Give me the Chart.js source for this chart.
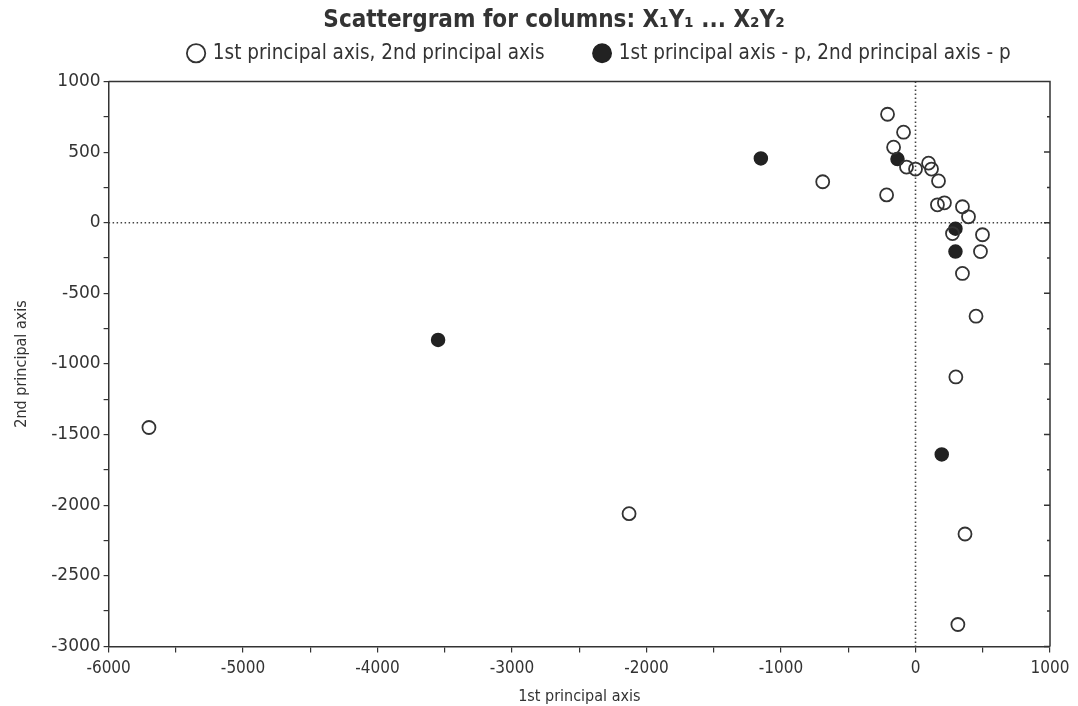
<!DOCTYPE html>
<html>
<head>
<meta charset="utf-8">
<script src="https://cdn.jsdelivr.net/npm/chart.js@4.4.0/dist/chart.umd.min.js"></script>
<style>
  html, body { margin: 0; padding: 0; background: #fff; }
  #wrap { width: 1078px; height: 706px; }
</style>
</head>
<body>
<div id="wrap"><canvas id="chart-scatter" width="1078" height="706"></canvas></div>
<script>
// values
const open_x = [-5700, -2130, -690, -208, -89, -163, -67, 0, 97, 119, 171, -215, 163, 215, 349, 394, 275, 498, 483, 349, 450, 300, 368, 315];
const open_y = [-1450, -2060, 290, 768, 641, 535, 394, 380, 422, 380, 296, 197, 127, 141, 113, 42, -77, -85, -204, -359, -662, -1092, -2204, -2845];

const filled_x = [-1150, -3550, -134, 297, 297, 195];
const filled_y = [455, -830, 451, -42, -204, -1641];

const x_ticks = [-6000, -5000, -4000, -3000, -2000, -1000, 0, 1000];
const y_ticks = [1000, 500, 0, -500, -1000, -1500, -2000, -2500, -3000];

const ink = "#333";
const condensed = "'DejaVu Sans Condensed', 'DejaVu Sans'";

function toPoints(xs, ys) {
  return xs.map((v, i) => ({ x: v, y: ys[i] }));
}

// dotted zero lines + top/right frame with small ticks
const framePlugin = {
  id: "frame",
  beforeInit(chart) {
    // a bit more room under the legend
    const fit = chart.legend.fit;
    chart.legend.fit = function () { fit.call(this); this.height += 8; };
  },
  beforeDatasetsDraw(chart) {
    const { ctx, chartArea: a, scales } = chart;
    const xs = scales.x, ys = scales.y;
    ctx.save();
    ctx.strokeStyle = "#444";
    ctx.lineWidth = 1.6;
    ctx.setLineDash([1.5, 2.5]);
    const x0 = xs.getPixelForValue(0), y0 = ys.getPixelForValue(0);
    ctx.beginPath();
    ctx.moveTo(x0, a.top); ctx.lineTo(x0, a.bottom);
    ctx.moveTo(a.left, y0); ctx.lineTo(a.right, y0);
    ctx.stroke();
    ctx.setLineDash([]);
    ctx.strokeStyle = ink;
    ctx.lineWidth = 1.5;
    ctx.beginPath();
    ctx.moveTo(a.left, a.top); ctx.lineTo(a.right, a.top); ctx.lineTo(a.right, a.bottom);
    ys.ticks.forEach(t => {
      const py = ys.getPixelForValue(t.value);
      const len = t.value % 500 === 0 ? 6 : 3;
      ctx.moveTo(a.right, py); ctx.lineTo(a.right - len, py);
    });
    ctx.stroke();
    ctx.restore();
  }
};

const data_scatter = {
  datasets: [{
    label: "1st principal axis, 2nd principal axis",
    data: toPoints(open_x, open_y),
    pointRadius: 6.5,
    pointBorderWidth: 1.8,
    borderColor: ink,
    backgroundColor: "rgba(255,255,255,0)",
    pointBackgroundColor: "rgba(255,255,255,0)"
  },
  {
    label: "1st principal axis - p, 2nd principal axis - p",
    data: toPoints(filled_x, filled_y),
    pointRadius: 6.5,
    pointBorderWidth: 1.5,
    borderColor: "#222",
    backgroundColor: "#222",
    pointBackgroundColor: "#222"
  }]
};

const config_scatter = {
  type: "scatter",
  data: data_scatter,
  plugins: [framePlugin],
  options: {
    responsive: false,
    animation: false,
    layout: { padding: { left: 4, right: 28, top: 0, bottom: 0 } },
    plugins: {
      title: {
        display: true,
        // leading space nudges the title right, as in the picture
        text: "\u2003\u2003\u2002Scattergram for columns: X\u2081Y\u2081 ... X\u2082Y\u2082",
        color: ink,
        font: { family: condensed, size: 24, weight: "bold", lineHeight: 1 },
        padding: { top: 9, bottom: 0 }
      },
      legend: {
        position: "top",
        align: "end",
        labels: {
          usePointStyle: true,
          pointStyle: "circle",
          color: ink,
          boxWidth: 13,
          boxHeight: 13,
          padding: 10,
          font: { family: condensed, size: 20.5 },
          // spacing between the two entries, as in the picture
          generateLabels(chart) {
            const items = Chart.defaults.plugins.legend.labels.generateLabels(chart);
            items[0].text += "       ";
            items[1].text += "     ";
            return items;
          }
        }
      },
      tooltip: { enabled: false }
    },
    scales: {
      x: {
        type: "linear",
        min: -6000,
        max: 1000,
        border: { display: true, color: ink, width: 1.5 },
        grid: { drawOnChartArea: false, drawTicks: true, tickLength: 6, color: ink, lineWidth: 1.2 },
        ticks: {
          stepSize: 500,
          color: ink,
          maxRotation: 0,
          autoSkip: false,
          padding: 6,
          font: { family: condensed, size: 17 },
          callback: v => x_ticks.includes(v) ? v : ""
        },
        title: {
          display: true,
          text: "1st principal axis",
          color: ink,
          padding: { top: 2, bottom: 0 },
          font: { family: condensed, size: 16 }
        }
      },
      y: {
        type: "linear",
        min: -3000,
        max: 1000,
        border: { display: true, color: ink, width: 1.5 },
        grid: { drawOnChartArea: false, drawTicks: true, tickLength: 5, color: ink, lineWidth: 1.2 },
        ticks: {
          stepSize: 250,
          color: ink,
          autoSkip: false,
          padding: 3,
          font: { family: "'DejaVu Sans'", size: 17 },
          callback: v => y_ticks.includes(v) ? v : ""
        },
        title: {
          display: true,
          text: "2nd principal axis",
          color: ink,
          padding: { top: 8, bottom: 17 },
          font: { family: condensed, size: 16 }
        }
      }
    }
  }
};

new Chart(document.getElementById("chart-scatter"), config_scatter);
</script>
</body>
</html>
